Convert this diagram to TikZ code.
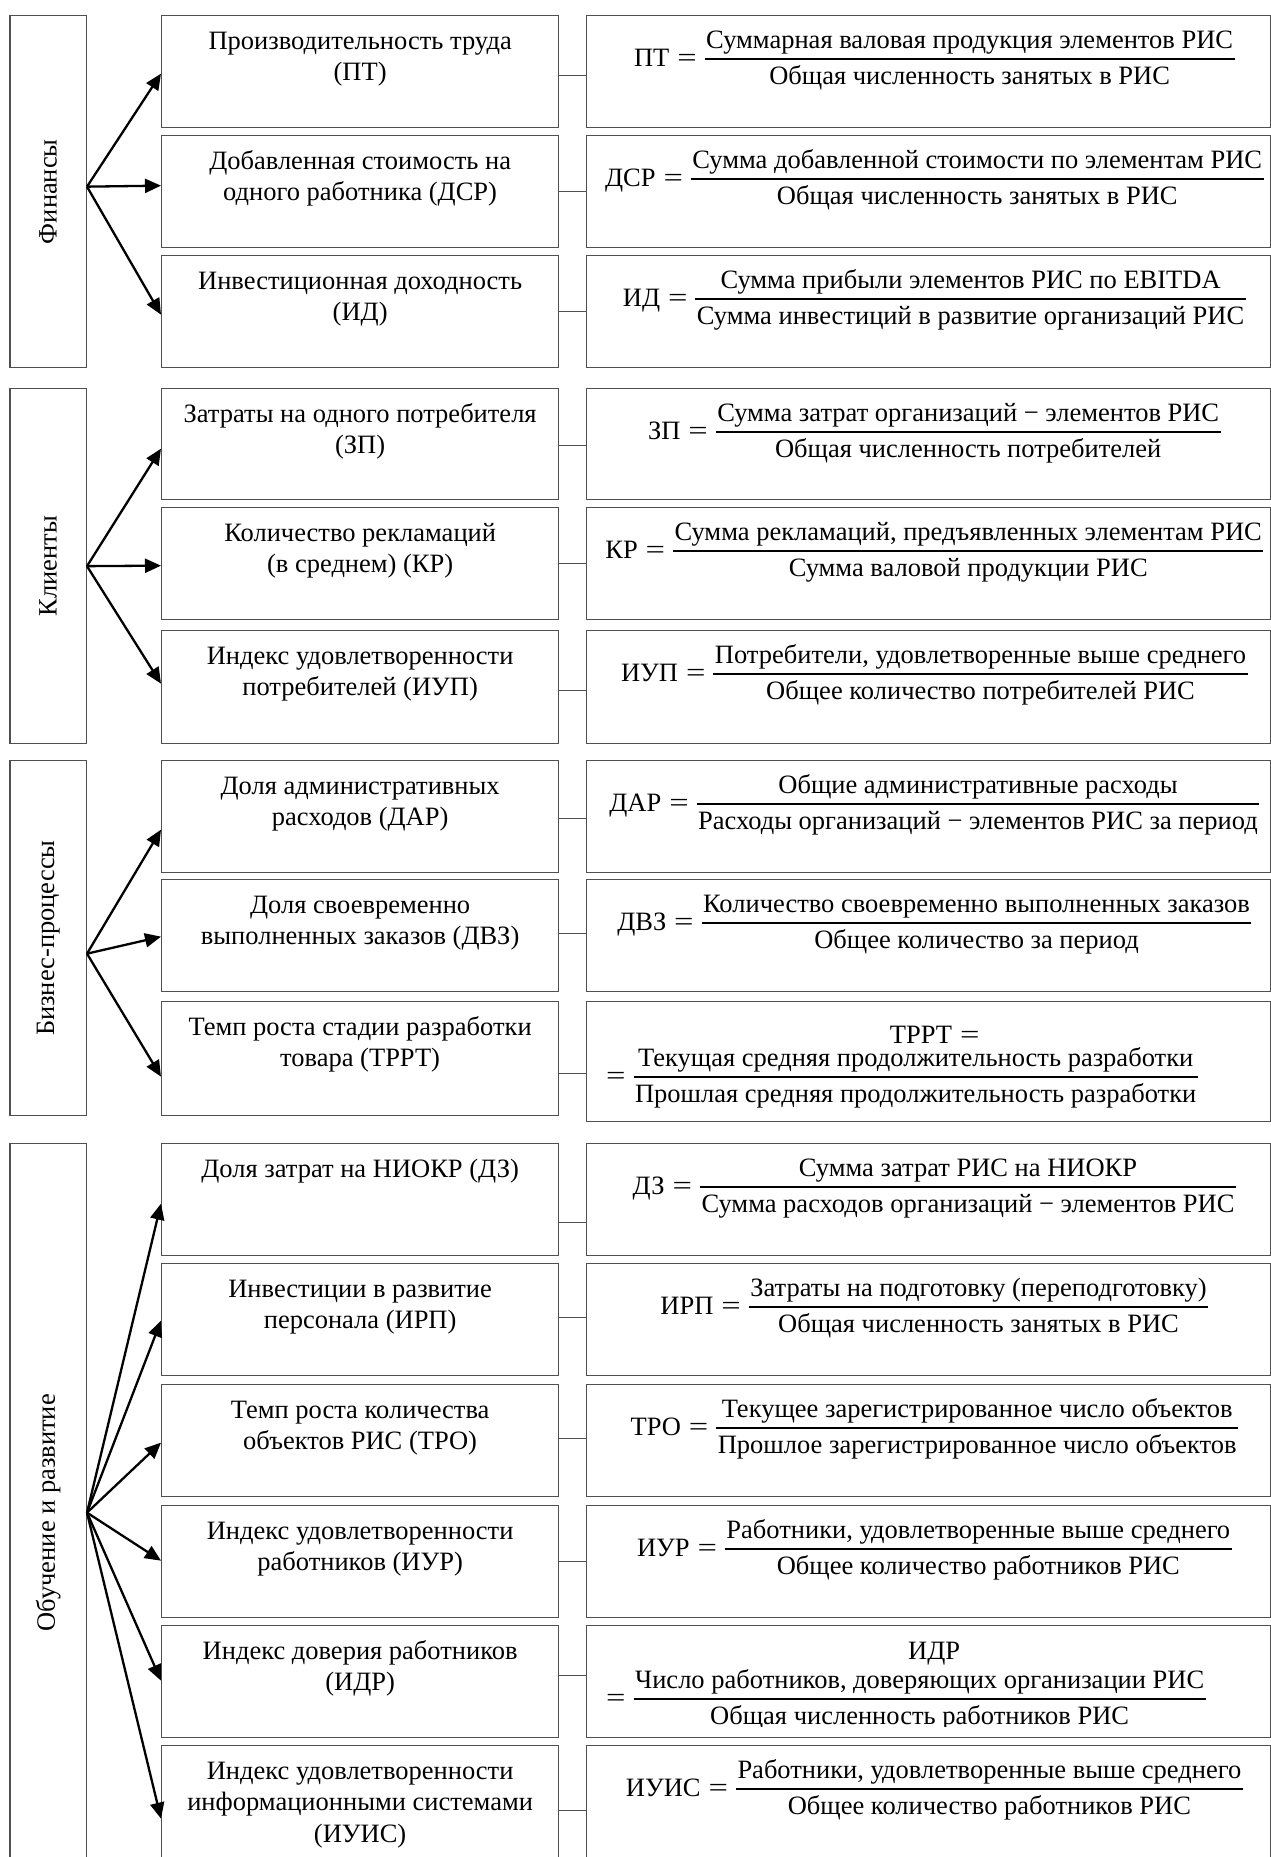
\documentclass[tikz,border=0pt]{standalone}
\usepackage{fontspec}
\setmainfont{Liberation Serif}
\usepackage{graphicx}
\usetikzlibrary{arrows.meta,calc}
\definecolor{edge}{HTML}{505050}

% stacked fraction: numerator, bar, denominator; baseline lowered so the bar sits at the "=" height
\newcommand\frc[2]{%
  \raisebox{-18.5pt}{\vbox{\offinterlineskip
    \halign{\hfil\hskip1.5pt##\hskip1.5pt\hfil\cr
      \vrule width0pt height18pt depth6pt\relax #1\cr
      \noalign{\kern3.85pt\hrule height2.3pt\kern2.35pt}%
      \vrule width0pt height22pt depth7pt\relax #2\cr}}}}
\newcommand\eqsign{\scalebox{1.3}[1]{=}}
\newcommand\fml[3]{#1\hspace{0.3em}\eqsign\hspace{0.3em}\frc{#2}{#3}}

\begin{document}
\begin{tikzpicture}[x=1pt,y=-1pt,
  mbox/.style={draw=edge, line width=1.3pt, rectangle, anchor=north west, minimum width=397pt, inner sep=0pt},
  rbox/.style={draw=edge, line width=1.3pt, rectangle, anchor=north west, minimum width=684pt, inner sep=0pt},
  cbox/.style={draw=edge, line width=1.3pt, rectangle, anchor=north west, minimum width=76.4pt, inner sep=0pt},
  mtext/.style={anchor=north, inner sep=0pt, align=center, font=\fontsize{26.5}{31.5}\selectfont},
  ctext/.style={rotate=90, inner sep=0pt, font=\fontsize{26.5}{31.5}\selectfont},
  ftext/.style={anchor=base, inner sep=0pt, font=\fontsize{26.5}{31.5}\selectfont},
  conn/.style={draw=edge, line width=1.3pt},
  arr/.style={-{Triangle[length=16pt,width=14pt]}, line width=2.3pt, black}]

\clip (0,0) rectangle (1271,1857);
\fill[white] (0,0) rectangle (1271,1857);

% ---------- category columns ----------
\node[cbox, minimum height=352pt] (c1) at (9.3,15) {};
\node[ctext] (c1t) at (c1.center) {Финансы};
\node[cbox, minimum height=355pt] (c2) at (9.3,388) {};
\node[ctext] (c2t) at (c2.center) {Клиенты};
\node[cbox, minimum height=355pt] (c3) at (9.3,760) {};
\node[ctext] (c3t) at (c3.center) {Бизнес-процессы};
\node[cbox, minimum height=738pt] (c4) at (9.3,1143) {};
\node[ctext] (c4t) at (c4.center) {Обучение и развитие};

% ---------- indicator boxes and formula boxes ----------
\node[mbox, minimum height=112pt] (m11) at (161,15) {};
\node[rbox, minimum height=112pt] (r11) at (586,15) {};
\node[mbox, minimum height=112pt] (m12) at (161,135) {};
\node[rbox, minimum height=112pt] (r12) at (586,135) {};
\node[mbox, minimum height=112pt] (m13) at (161,255) {};
\node[rbox, minimum height=112pt] (r13) at (586,255) {};

\node[mbox, minimum height=111pt] (m21) at (161,388) {};
\node[rbox, minimum height=111pt] (r21) at (586,388) {};
\node[mbox, minimum height=112pt] (m22) at (161,507) {};
\node[rbox, minimum height=112pt] (r22) at (586,507) {};
\node[mbox, minimum height=113pt] (m23) at (161,630) {};
\node[rbox, minimum height=113pt] (r23) at (586,630) {};

\node[mbox, minimum height=112pt] (m31) at (161,760) {};
\node[rbox, minimum height=112pt] (r31) at (586,760) {};
\node[mbox, minimum height=112pt] (m32) at (161,879) {};
\node[rbox, minimum height=112pt] (r32) at (586,879) {};
\node[mbox, minimum height=114pt] (m33) at (161,1001) {};
\node[rbox, minimum height=120pt] (r33) at (586,1001) {};

\node[mbox, minimum height=112pt] (m41) at (161,1143) {};
\node[rbox, minimum height=112pt] (r41) at (586,1143) {};
\node[mbox, minimum height=112pt] (m42) at (161,1263) {};
\node[rbox, minimum height=112pt] (r42) at (586,1263) {};
\node[mbox, minimum height=112pt] (m43) at (161,1384) {};
\node[rbox, minimum height=112pt] (r43) at (586,1384) {};
\node[mbox, minimum height=112pt] (m44) at (161,1505) {};
\node[rbox, minimum height=112pt] (r44) at (586,1505) {};
\node[mbox, minimum height=112pt] (m45) at (161,1625) {};
\node[rbox, minimum height=112pt] (r45) at (586,1625) {};
\node[mbox, minimum height=133pt] (m46) at (161,1745) {};
\node[rbox, minimum height=133pt] (r46) at (586,1745) {};

% ---------- indicator names ----------
\node[mtext] (t11) at ($(m11.north)+(0,12)$) {\strut Производительность труда\\(ПТ)};
\node[mtext] (t12) at ($(m12.north)+(0,12)$) {\strut Добавленная стоимость на\\одного работника (ДСР)};
\node[mtext] (t13) at ($(m13.north)+(0,12)$) {\strut Инвестиционная доходность\\(ИД)};
\node[mtext] (t21) at ($(m21.north)+(0,12)$) {\strut Затраты на одного потребителя\\(ЗП)};
\node[mtext] (t22) at ($(m22.north)+(0,12)$) {\strut Количество рекламаций\\(в среднем) (КР)};
\node[mtext] (t23) at ($(m23.north)+(0,12)$) {\strut Индекс удовлетворенности\\потребителей (ИУП)};
\node[mtext] (t31) at ($(m31.north)+(0,12)$) {\strut Доля административных\\расходов (ДАР)};
\node[mtext] (t32) at ($(m32.north)+(0,12)$) {\strut Доля своевременно\\выполненных заказов (ДВЗ)};
\node[mtext] (t33) at ($(m33.north)+(0,12)$) {\strut Темп роста стадии разработки\\товара (ТРРТ)};
\node[mtext] (t41) at ($(m41.north)+(0,12)$) {\strut Доля затрат на НИОКР (ДЗ)};
\node[mtext] (t42) at ($(m42.north)+(0,12)$) {\strut Инвестиции в развитие\\персонала (ИРП)};
\node[mtext] (t43) at ($(m43.north)+(0,12)$) {\strut Темп роста количества\\объектов РИС (ТРО)};
\node[mtext] (t44) at ($(m44.north)+(0,12)$) {\strut Индекс удовлетворенности\\работников (ИУР)};
\node[mtext] (t45) at ($(m45.north)+(0,12)$) {\strut Индекс доверия работников\\(ИДР)};
\node[mtext] (t46) at ($(m46.north)+(0,12)$) {\strut Индекс удовлетворенности\\информационными системами\\(ИУИС)};

% ---------- formulas ----------
\node[ftext] (f11) at ($(r11.north)+(5.7,51.3)$) {\fml{ПТ}{Суммарная валовая продукция элементов РИС}{Общая численность занятых в РИС}};
\node[ftext] (f12) at ($(r12.north)+(5.7,51.3)$) {\fml{ДСР}{Сумма добавленной стоимости по элементам РИС}{Общая численность занятых в РИС}};
\node[ftext] (f13) at ($(r13.north)+(5.7,51.3)$) {\fml{ИД}{Сумма прибыли элементов РИС по EBITDA}{Сумма инвестиций в развитие организаций РИС}};
\node[ftext] (f21) at ($(r21.north)+(5.7,51.3)$) {\fml{ЗП}{Сумма затрат организаций − элементов РИС}{Общая численность потребителей}};
\node[ftext] (f22) at ($(r22.north)+(5.7,51.3)$) {\fml{КР}{Сумма рекламаций, предъявленных элементам РИС}{Сумма валовой продукции РИС}};
\node[ftext] (f23) at ($(r23.north)+(5.7,51.3)$) {\fml{ИУП}{Потребители, удовлетворенные выше среднего}{Общее количество потребителей РИС}};
\node[ftext] (f31) at ($(r31.north)+(5.7,51.3)$) {\fml{ДАР}{Общие административные расходы}{Расходы организаций − элементов РИС за период}};
\node[ftext] (f32) at ($(r32.north)+(5.7,51.3)$) {\fml{ДВЗ}{Количество своевременно выполненных заказов}{Общее количество за период}};
\node[ftext] (f33a) at ($(r33.north)+(6,42)$) {ТРРТ\hspace{0.3em}\eqsign};
\node[ftext, anchor=base west] (f33b) at ($(r33.north west)+(20,83)$) {\eqsign\hspace{0.3em}\frc{Текущая средняя продолжительность разработки}{Прошлая средняя продолжительность разработки}};
\node[ftext] (f41) at ($(r41.north)+(5.7,51.3)$) {\fml{ДЗ}{Сумма затрат РИС на НИОКР}{Сумма расходов организаций − элементов РИС}};
\node[ftext] (f42) at ($(r42.north)+(5.7,51.3)$) {\fml{ИРП}{Затраты на подготовку (переподготовку)}{Общая численность занятых в РИС}};
\node[ftext] (f43) at ($(r43.north)+(5.7,51.3)$) {\fml{ТРО}{Текущее зарегистрированное число объектов}{Прошлое зарегистрированное число объектов}};
\node[ftext] (f44) at ($(r44.north)+(5.7,51.3)$) {\fml{ИУР}{Работники, удовлетворенные выше среднего}{Общее количество работников РИС}};
\begin{scope}
  \clip (r45.north west) rectangle ($(r45.south east)+(0,-12)$);
  \node[ftext] (f45a) at ($(r45.north)+(5.5,34)$) {ИДР};
  \node[ftext, anchor=base west] (f45b) at ($(r45.north west)+(20,81)$) {\eqsign\hspace{0.3em}\frc{Число работников, доверяющих организации РИС}{Общая численность работников РИС}};
\end{scope}
\node[ftext] (f46) at ($(r46.north)+(5.7,51.3)$) {\fml{ИУИС}{Работники, удовлетворенные выше среднего}{Общее количество работников РИС}};

% ---------- links between indicator and formula boxes ----------
\coordinate (k11) at ($(m11.east)+(0,4)$);
\coordinate (k12) at (m12.east);
\coordinate (k13) at (m13.east);
\coordinate (k21) at ($(m21.east)+(0,1.5)$);
\coordinate (k22) at (m22.east);
\coordinate (k23) at ($(m23.east)+(0,3.5)$);
\coordinate (k31) at ($(m31.east)+(0,2)$);
\coordinate (k32) at ($(m32.east)+(0,-2)$);
\coordinate (k33) at ($(m33.east)+(0,15)$);
\coordinate (k41) at ($(m41.east)+(0,23)$);
\coordinate (k42) at ($(m42.east)+(0,-2)$);
\coordinate (k43) at ($(m43.east)+(0,-2)$);
\coordinate (k44) at (m44.east);
\coordinate (k45) at ($(m45.east)+(0,-6)$);
\coordinate (k46) at ($(m46.east)+(0,-1.5)$);
\foreach \k in {11,12,13,21,22,23,31,32,33,41,42,43,44,45,46}
  \draw[conn] (k\k) -- (k\k -| r\k.west);

% ---------- arrows from the categories ----------
\coordinate (o1) at ($(c1.east)+(0,-5)$);
\coordinate (o2) at (c2.east);
\coordinate (o3) at ($(c3.east)+(0,15.5)$);
\coordinate (o4) at (c4.east);

\draw[arr] (o1) -- ($(m11.west)+(0,2)$);
\draw[arr] (o1) -- ($(m12.west)+(0,-6)$);
\draw[arr] (o1) -- ($(m13.west)+(0,3)$);
\draw[arr] (o2) -- ($(m21.west)+(0,4.5)$);
\draw[arr] (o2) -- ($(m22.west)+(0,2)$);
\draw[arr] (o2) -- ($(m23.west)+(0,-3.5)$);
\draw[arr] (o3) -- ($(m31.west)+(0,13)$);
\draw[arr] (o3) -- ($(m32.west)+(0,1)$);
\draw[arr] (o3) -- ($(m33.west)+(0,18)$);
\draw[arr] (o4) -- ($(m41.west)+(0,4)$);
\draw[arr] (o4) -- ($(m42.west)+(0,1)$);
\draw[arr] (o4) -- ($(m43.west)+(0,2)$);
\draw[arr] (o4) -- ($(m44.west)+(0,-1)$);
\draw[arr] (o4) -- ($(m45.west)+(0,-1)$);
\draw[arr] (o4) -- ($(m46.west)+(0,6.5)$);
\end{tikzpicture}
\end{document}
